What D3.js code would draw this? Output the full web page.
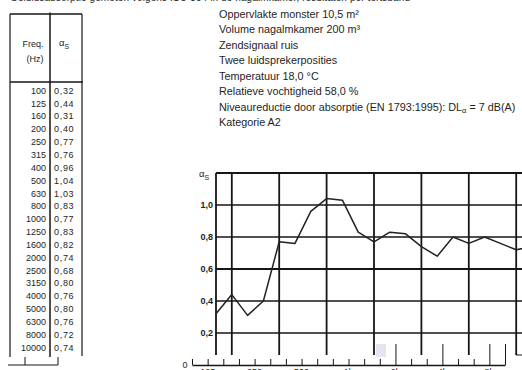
<!DOCTYPE html>
<html>
<head>
<meta charset="utf-8">
<script src="https://cdn.jsdelivr.net/npm/d3@7"></script>
<style>
  html, body { margin: 0; padding: 0; background: #fff; }
  svg { display: block; }
  text { font-family: "Liberation Sans", Arial, sans-serif; fill: #1e1e1e; }
</style>
</head>
<body>
<svg id="chart" width="522" height="370"></svg>
<script>
// ---- data ----
const freqs = ["100","125","160","200","250","315","400","500","630","800","1000",
               "1250","1600","2000","2500","3150","4000","5000","6300","8000","10000"];
const alphaS = [0.32,0.44,0.31,0.40,0.77,0.76,0.96,1.04,1.03,0.83,0.77,
                0.83,0.82,0.74,0.68,0.80,0.76,0.80,0.76,0.72,0.74];
const alphaLabels = ["0,32","0,44","0,31","0,40","0,77","0,76","0,96","1,04","1,03","0,83","0,77",
                     "0,83","0,82","0,74","0,68","0,80","0,76","0,80","0,76","0,72","0,74"];
const yTicks = [0.2, 0.4, 0.6, 0.8, 1.0];
const yTickLabels = ["0,2","0,4","0,6","0,8","1,0"];
const gridFreqs = ["125","250","500","1000","2000","4000","8000"];
const axisLabelFreqs = ["125","250","500","1000","2000","4000","8000"];
const axisLabelTexts = ["125","250","500","1k","2k","4k","8k"];
const tallTickFreqs = ["2000","4000","8000","10000"];
const infoLines = [
  "Oppervlakte monster  10,5 m²",
  "Volume nagalmkamer 200 m³",
  "Zendsignaal ruis",
  "Twee luidsprekerposities",
  "Temperatuur 18,0 °C",
  "Relatieve vochtigheid 58,0 %",
  "NIVEAU",
  "Kategorie A2"
];
const topLine = "Geluidsabsorptie gemeten volgens ISO 354 in de nagalmkamer, resultaten per tertsband";

// ---- drawing ----
const svg = d3.select("#chart");
const ink = "#161616";

// top cut-off line of text
svg.append("text").attr("x", 10).attr("y", 1.2).attr("font-size", 10)
  .attr("textLength", 400).attr("lengthAdjust", "spacing").text(topLine);

// ---- table ----
const tbl = svg.append("g");
const rowY = d3.scalePoint().domain(freqs).range([90.5, 347.5]);
const tl = (x1,y1,x2,y2,w) => tbl.append("line").attr("x1",x1).attr("y1",y1).attr("x2",x2).attr("y2",y2)
  .attr("stroke", ink).attr("stroke-width", w || 1.2);
tl(10,14,82,14,1.3);
tl(10,14,10,357);
tl(50,12.5,50,357,1.5);
tl(82,14,82,356);
tl(10,82,83,82,1.3);
// bracket below table
tl(8,365,58,365,1);
tl(25,357,25,365,1);
tl(58,357,58,365,1);

tbl.append("text").attr("x", 33).attr("y", 47).attr("text-anchor","middle").attr("font-size", 9).text("Freq.");
tbl.append("text").attr("x", 35).attr("y", 62).attr("text-anchor","middle").attr("font-size", 9).text("(Hz)");
const hdr = tbl.append("text").attr("x", 59).attr("y", 46).attr("font-size", 9.5);
hdr.append("tspan").text("α");
hdr.append("tspan").attr("font-size", 7).attr("dy", 2.5).text("S");

tbl.selectAll("text.f").data(freqs).join("text").attr("class","f")
  .attr("x", 46).attr("y", d => rowY(d) + 3.2).attr("text-anchor","end").attr("font-size", 9)
  .text(d => d);
tbl.selectAll("text.a").data(alphaLabels).join("text").attr("class","a")
  .attr("x", 54).attr("y", (d,i) => rowY(freqs[i]) + 3.2).attr("font-size", 9)
  .attr("letter-spacing", 0.7).text(d => d);

// ---- info text ----
const info = svg.append("g");
const lineY = d3.scalePoint().domain(d3.range(infoLines.length)).range([17.5, 126]);
infoLines.forEach((t, i) => {
  const el = info.append("text").attr("x", 219).attr("y", lineY(i)).attr("font-size", 10.8);
  if (t === "NIVEAU") {
    el.append("tspan").text("Niveaureductie door absorptie (EN 1793:1995): DL");
    el.append("tspan").attr("font-size", 7.5).attr("dy", 2.5).text("α");
    el.append("tspan").attr("dy", -2.5).text(" = 7 dB(A)");
  } else {
    el.text(t);
  }
});

// ---- chart ----
const xGrid = d3.scalePoint().domain(freqs).range([216, 532]);
const xAxis = d3.scalePoint().domain(freqs).range([192, 505]);
const y = d3.scaleLinear().domain([0, 1.2]).range([365, 173]);
const gridBottom = y(0.0625);
const plot = svg.append("g");

// faint scanner smudge near the axis
plot.append("rect").attr("x", 376).attr("y", 344).attr("width", 10).attr("height", 13)
  .attr("fill", "#e6e4ef");

// horizontal grid lines + top border
[...yTicks, 1.2].forEach(t => {
  plot.append("line").attr("x1", xGrid("100")).attr("x2", 522)
    .attr("y1", y(t)).attr("y2", y(t))
    .attr("stroke", ink).attr("stroke-width", t === 1.2 ? 2 : (t === 0.6 ? 1.9 : 1.5));
});
// left border + vertical grid lines
["100", ...gridFreqs].forEach(f => {
  plot.append("line").attr("x1", xGrid(f)).attr("x2", xGrid(f))
    .attr("y1", y(1.2)).attr("y2", gridBottom)
    .attr("stroke", ink).attr("stroke-width", 1.8);
});
// small hook at the foot of the 8k line
plot.append("path")
  .attr("d", `M${xGrid("8000")},${gridBottom}V${gridBottom - 2}M${xGrid("8000")},${gridBottom}H522`)
  .attr("stroke", ink).attr("stroke-width", 1).attr("fill", "none");

// data line
const line = d3.line().x(d => xGrid(d.f)).y(d => y(d.a));
plot.append("path").datum(freqs.map((f, i) => ({f, a: alphaS[i]})))
  .attr("d", line).attr("fill", "none").attr("stroke", "#222").attr("stroke-width", 1.5)
  .attr("stroke-linejoin", "round");

// y axis labels
const yAx = svg.append("g").attr("transform", `translate(${xGrid("100")},0)`)
  .call(d3.axisLeft(y).tickValues(yTicks).tickSize(0).tickPadding(3)
    .tickFormat((d, i) => yTickLabels[i]));
yAx.select(".domain").remove();
yAx.selectAll("text").attr("font-size", 9).attr("font-family", '"Liberation Sans", Arial, sans-serif')
  .attr("fill", "#1e1e1e").attr("font-weight", "bold");
const yt = svg.append("text").attr("x", 199).attr("y", y(1.2) + 4).attr("font-size", 9.5);
yt.append("tspan").text("α");
yt.append("tspan").attr("font-size", 7).attr("dy", 2.5).text("S");

// bottom ruler axis
const xAx = svg.append("g").attr("transform", `translate(0,${y(0)})`)
  .call(d3.axisTop(xAxis).tickSize(6).tickSizeOuter(0).tickFormat(""));
xAx.select(".domain").attr("stroke", ink).attr("stroke-width", 1.6);
xAx.selectAll(".tick line").attr("stroke", ink).attr("stroke-width", 1);
xAx.selectAll(".tick").filter(d => tallTickFreqs.includes(d)).select("line").attr("y2", -21);
svg.append("text").attr("x", 185).attr("y", y(0) + 3).attr("text-anchor", "middle")
  .attr("font-size", 9).text("0");
svg.selectAll("text.xl").data(axisLabelFreqs).join("text").attr("class", "xl")
  .attr("x", d => xAxis(d)).attr("y", 375).attr("text-anchor", "middle").attr("font-size", 9)
  .text((d, i) => axisLabelTexts[i]);
</script>
</body>
</html>
